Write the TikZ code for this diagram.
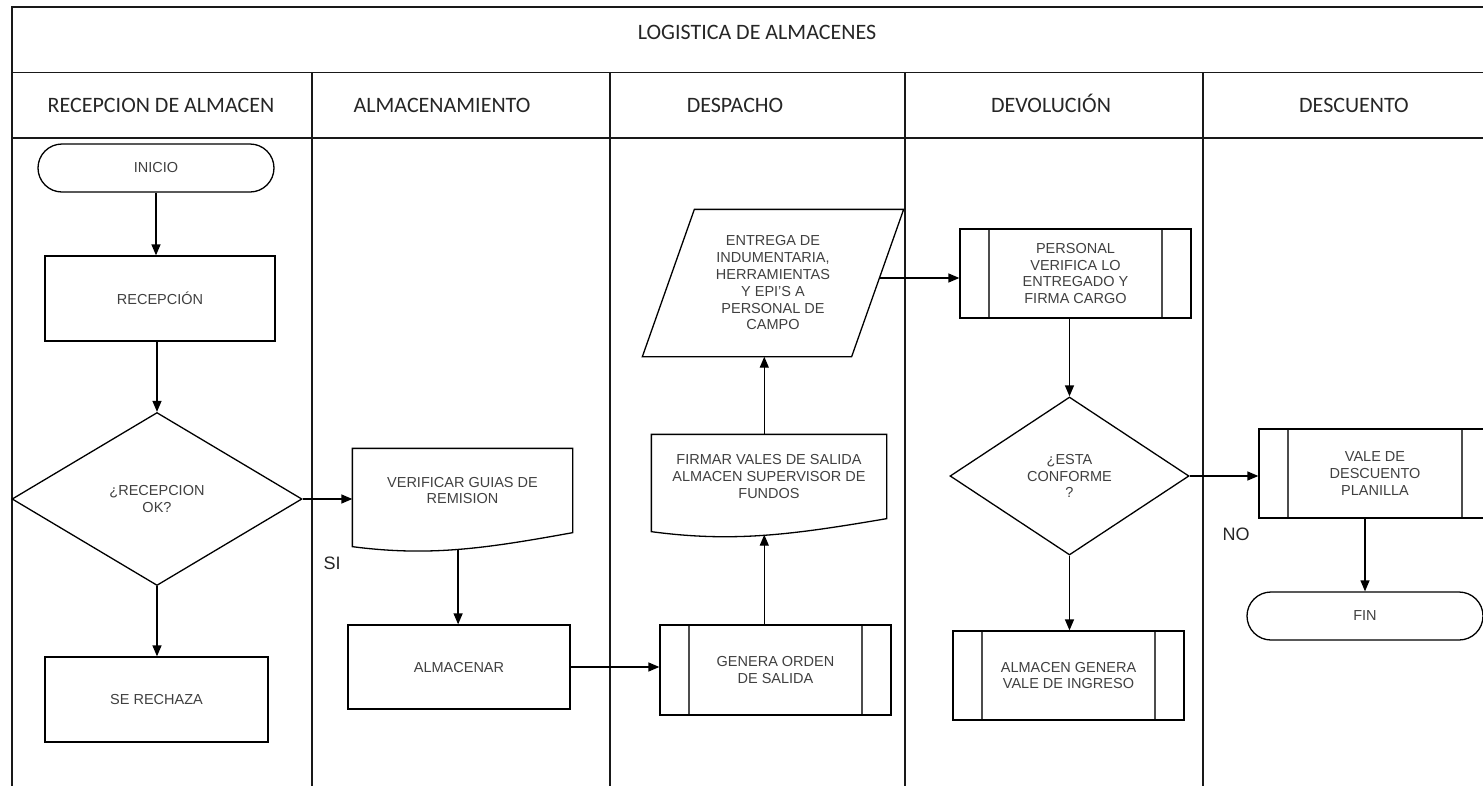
\documentclass[tikz,border=0pt]{standalone}
\usepackage{fontspec}
\setmainfont{Liberation Sans}
\newfontfamily\hdrfont{Carlito}
\usetikzlibrary{shapes.geometric,shapes.misc,arrows.meta,calc}

\begin{document}
\begin{tikzpicture}[x=1pt,y=-1pt,
  grid/.style={line width=1.6pt, draw=black!90},
  hdr/.style={font=\hdrfont\fontsize{22}{26}\selectfont, text=black!85, inner sep=0pt},
  box/.style={draw, fill=white, line width=1.3pt, font=\fontsize{14.5}{16.8}\selectfont,
              text=black!75, align=center, inner sep=2pt},
  outline/.style={line width=1.3pt, line join=miter},
  proc/.style={box, rectangle},
  term/.style={box, rounded rectangle, minimum width=240pt, minimum height=48pt},
  decis/.style={box, diamond, inner sep=0pt},
  subproc/.style={proc, minimum width=231pt, minimum height=89pt,
    path picture={
      \draw[black!70, line width=1.3pt]
        ([xshift=29pt]path picture bounding box.north west) -- ([xshift=29pt]path picture bounding box.south west)
        ([xshift=-29pt]path picture bounding box.north east) -- ([xshift=-29pt]path picture bounding box.south east);
    }},
  ghost/.style={box, draw=none, fill=none},
  flow/.style={line width=1.3pt, -{Triangle[length=11pt,width=9pt]}},
  lbl/.style={font=\fontsize{18}{20}\selectfont, text=black!85, inner sep=0pt}
]
\useasboundingbox (0,0) rectangle (1483,785);

% swimlane table
\draw[grid] (1490,7) -- (12,7) -- (12,790);
\draw[grid] (12,72.5) -- (1490,72.5);
\draw[grid] (12,138) -- (1490,138);
\foreach \x in {312,610,905,1203} \draw[grid] (\x,72.5) -- (\x,790);

% titles
\node[hdr, anchor=base] (title) at (757,39) {LOGISTICA DE ALMACENES};
\node[hdr, anchor=base] (lane1) at (161,112) {RECEPCION DE ALMACEN};
\node[hdr, anchor=base] (lane2) at (442,112) {ALMACENAMIENTO};
\node[hdr, anchor=base] (lane3) at (735,112) {DESPACHO};
\node[hdr, anchor=base] (lane4) at (1051,112) {DEVOLUCIÓN};
\node[hdr, anchor=base] (lane5) at (1354,112) {DESCUENTO};

% recepcion de almacen
\node[term] (inicio) at (156,168) {INICIO};
\node[proc, minimum width=230pt, minimum height=85pt] (recep) at (160,298.5) {RECEPCIÓN};
\node[decis, minimum width=290pt, minimum height=173pt] (dec1) at (157,499) {¿RECEPCION\\OK?};
\node[proc, minimum width=223pt, minimum height=85pt] (rechaza) at (156.5,699.5) {SE RECHAZA};

% almacenamiento
\node[ghost, minimum width=219pt, minimum height=83pt] (verif) at (462.5,490.5) {VERIFICAR GUIAS DE\\REMISION};
\draw[outline] (verif.north west) -- (verif.north east) -- (verif.south east)
  .. controls ($(verif.south west)!0.6!(verif.south east)+(0,16)$) and ($(verif.south west)!0.35!(verif.south east)+(0,24)$)
  .. ($(verif.south west)+(0,14)$) -- cycle;
\coordinate (verifB) at ($(verif.south west)!0.48!(verif.south east)+(0,17)$);
\node[proc, minimum width=222pt, minimum height=84pt] (almac) at (459,667) {ALMACENAR};

% despacho
\node[subproc, minimum height=90pt] (genera) at (775.5,670) {GENERA ORDEN\\DE SALIDA};
\node[ghost, minimum width=234pt, minimum height=83pt] (firmar) at (769,476.5) {FIRMAR VALES DE SALIDA\\ALMACEN SUPERVISOR DE\\FUNDOS};
\draw[outline] (firmar.north west) -- (firmar.north east) -- (firmar.south east)
  .. controls ($(firmar.south west)!0.6!(firmar.south east)+(0,16)$) and ($(firmar.south west)!0.35!(firmar.south east)+(0,24)$)
  .. ($(firmar.south west)+(0,13)$) -- cycle;
\coordinate (firmarB) at ($(firmar.south west)!0.48!(firmar.south east)+(0,16)$);
\node[ghost, minimum width=260pt, minimum height=146pt] (entrega) at (773,283)
  {ENTREGA DE\\INDUMENTARIA,\\HERRAMIENTAS\\Y EPI'S A\\PERSONAL DE\\CAMPO};
\coordinate (eTL) at ($(entrega.north west)+(52,0)$);
\coordinate (eTR) at (entrega.north east);
\coordinate (eBR) at ($(entrega.south east)+(-52,0)$);
\coordinate (eBL) at (entrega.south west);
\draw[outline] (eTL) -- (eTR) -- (eBR) -- (eBL) -- cycle;
\coordinate (entregaR) at ($(eTR)!0.466!(eBR)$);

% devolucion
\node[subproc] (personal) at (1075.5,273.5) {PERSONAL\\VERIFICA LO\\ENTREGADO Y\\FIRMA CARGO};
\node[decis, minimum width=239pt, minimum height=158pt] (dec2) at (1069.5,476) {¿ESTA\\CONFORME\\?};
\node[subproc] (almgen) at (1068.5,675.5) {ALMACEN GENERA\\VALE DE INGRESO};

% descuento
\node[subproc, minimum width=232pt] (vale) at (1375,473.5) {VALE DE\\DESCUENTO\\PLANILLA};
\node[term] (fin) at (1365,616) {FIN};

% connectors
\draw[flow] (inicio.south) -- (inicio.south |- recep.north);
\draw[flow] (dec1.north |- recep.south) -- (dec1.north);
\draw[flow] (dec1.east) -- (verif.west |- dec1.east);
\draw[flow] (dec1.south) -- (dec1.south |- rechaza.north);
\draw[flow] (verifB) -- (verifB |- almac.north);
\draw[flow] (almac.east) -- (almac.east -| genera.west);
\draw[flow] (genera.north -| firmarB) -- (firmarB);
\draw[flow] (firmar.north -| firmarB) -- (entrega.south -| firmarB);
\draw[flow] (entregaR) -- (entregaR -| personal.west);
\draw[flow] (personal.south -| dec2.north) -- (dec2.north);
\draw[flow] (dec2.east) -- (dec2.east -| vale.west);
\draw[flow] (dec2.south) -- (dec2.south |- almgen.north);
\draw[flow] (vale.south -| fin.north) -- (fin.north);

% branch labels
\node[lbl] (si) at (332,563) {SI};
\node[lbl] (no) at (1236,534) {NO};
\end{tikzpicture}
\end{document}
